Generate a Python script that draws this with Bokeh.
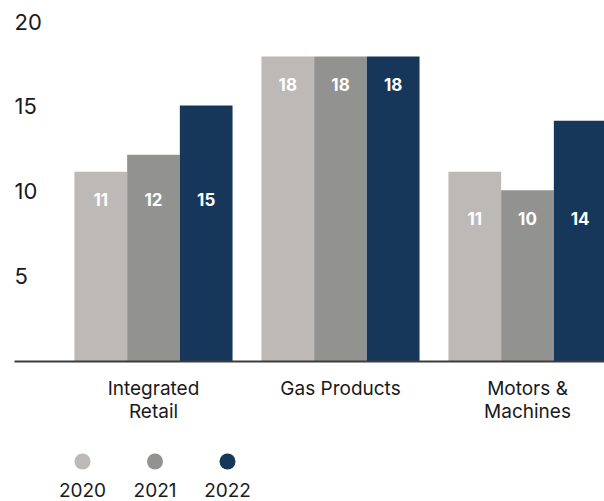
from bokeh.plotting import figure
from bokeh.models import ColumnDataSource, Range1d, FixedTicker
from bokeh.layouts import column
from bokeh.transform import dodge
from bokeh.core.properties import value
from bokeh.embed import file_html
from bokeh.resources import INLINE

# ---- data ----
categories = ["Integrated\nRetail", "Gas Products", "Motors &\nMachines"]
years = ["2020", "2021", "2022"]
values_2020 = [11.2, 18.0, 11.2]
values_2021 = [12.2, 18.0, 10.1]
values_2022 = [15.1, 18.0, 14.2]
colors = ["#bcb9b6", "#929290", "#16375a"]
y_ticks = [5, 10, 15, 20]

# ---- layout constants ----
FONT = "Inter"
W = 604
MAIN_H = 438
LEG_H = 63
LEFT = 14
BASE = 361
PX_PER_CAT = 187.0
BAR_W = 52.7 / PX_PER_CAT
FRAME_W = W - LEFT
X_START = -139.0 / PX_PER_CAT
X_END = X_START + FRAME_W / PX_PER_CAT
Y_END = BASE / 16.95
LEG_STEP = 72.5
LEG_X0 = 82 - LEFT

p = figure(width=W, height=MAIN_H, output_backend="svg", toolbar_location=None,
           x_range=Range1d(X_START, X_END), y_range=Range1d(0, Y_END),
           min_border_left=LEFT, min_border_right=0, min_border_top=0,
           min_border_bottom=MAIN_H - BASE, y_axis_location=None)

series = [values_2020, values_2021, values_2022]
cat_idx = list(range(len(categories)))
group_min = [min(g) for g in zip(*series)]

for j, (yr, vals, col) in enumerate(zip(years, series, colors)):
    src = ColumnDataSource(dict(x=cat_idx, top=vals,
                                label=[f"{v:.0f}" for v in vals],
                                ly=group_min))
    off = (j - 1) * BAR_W
    p.vbar(x=dodge("x", off), top="top", bottom=0, width=BAR_W, source=src,
           fill_color=col, line_color=None)
    p.text(x=dodge("x", off), y="ly", text="label", source=src,
           text_color="white", text_font=value(FONT), text_font_size="17px",
           text_font_style="bold", text_align="center", text_baseline="middle",
           y_offset=28)

# y tick labels drawn inside the plot at its left edge
p.text(x=[X_START] * len(y_ticks), y=y_ticks, text=[str(t) for t in y_ticks],
       text_font=value(FONT), text_font_size="22px", text_color="#1a1a1a",
       text_align="left", text_baseline="middle", y_offset=-1)

ax = p.xaxis[0]
ax.ticker = FixedTicker(ticks=cat_idx)
ax.major_label_overrides = {i: c for i, c in enumerate(categories)}
ax.major_tick_line_color = None
ax.minor_tick_line_color = None
ax.major_tick_out = 0
ax.major_tick_in = 0
ax.axis_line_color = "#3c3c3c"
ax.axis_line_width = 2
ax.major_label_standoff = 15
ax.major_label_text_font = FONT
ax.major_label_text_font_size = "19px"
ax.major_label_text_color = "#1a1a1a"
ax.major_label_text_line_height = 1.04
p.xgrid.visible = False
p.ygrid.visible = False
p.outline_line_color = None

# ---- legend (dots above labels) ----
leg = figure(width=W, height=LEG_H, output_backend="svg", toolbar_location=None,
             x_range=Range1d(-LEG_X0 / LEG_STEP, (FRAME_W - LEG_X0) / LEG_STEP),
             y_range=Range1d(0, LEG_H),
             min_border_left=LEFT, min_border_right=0, min_border_top=0,
             min_border_bottom=0, x_axis_location=None, y_axis_location=None)
leg.xgrid.visible = False
leg.ygrid.visible = False
leg.outline_line_color = None
lsrc = ColumnDataSource(dict(x=list(range(len(years))), year=years, color=colors))
leg.scatter(x="x", y=40, size=16, fill_color="color", line_color=None, source=lsrc)
leg.text(x="x", y=12, text="year", source=lsrc, text_font=value(FONT),
         text_font_size="19px", text_color="#1a1a1a", text_align="center",
         text_baseline="middle")

layout = column(p, leg)
open("out.html", "w").write(file_html(layout, INLINE))
